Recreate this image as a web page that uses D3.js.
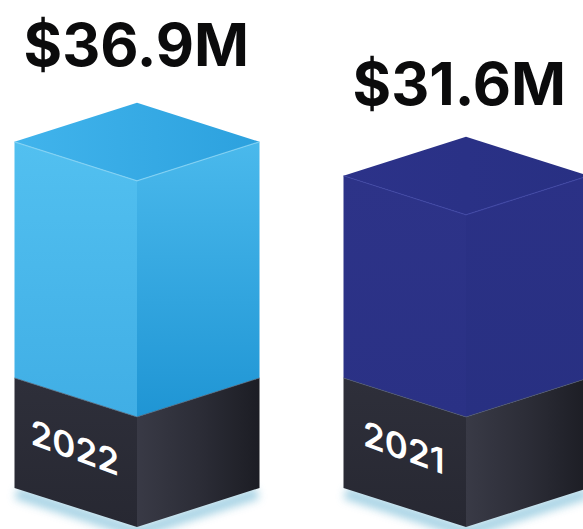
<!DOCTYPE html>
<html>
<head>
<meta charset="utf-8">
<script src="https://cdn.jsdelivr.net/npm/d3@7"></script>
<style>
  html, body { margin: 0; padding: 0; background: #ffffff; }
  svg { display: block; }
</style>
</head>
<body>
<svg id="chart" width="583" height="529"></svg>
<script>
// Annual revenue, in millions of dollars
const years = ["2022", "2021"];
const revenue = [36.9, 31.6];
const valueLabels = ["$36.9M", "$31.6M"];

// Face colours for each column (top, left side, right side)
const themes = [
  { top: ["#41b4ec", "#2ca1de"], left: ["#52c0f0", "#40aee5"], right: ["#4ab9ec", "#1f95d4"], edge: "#86d3f4" },
  { top: ["#2c3289", "#283083"], left: ["#2d3388", "#2a3185"], right: ["#2b3186", "#283082"], edge: "#3c43a2" }
];

const W = 583, H = 529;
const halfW = 122.5;   // half width of a column in the iso view
const drop = 39;       // vertical rise from front edge to side corners
const baseTop = 417;   // front edge where the dark plinth starts
const baseH = 110;     // plinth height

const svg = d3.select("#chart");
const defs = svg.append("defs");

const x = d3.scalePoint().domain(years).range([137, 466]);
const y = d3.scaleLinear().domain([0, 40]).range([baseTop, baseTop - 256]);
// gap between a column's top and its value label
const labelGap = d3.scaleLinear().domain([0, 36.9]).range([0, 37]);

function grad(id, stops, x2, y2) {
  const g = defs.append("linearGradient").attr("id", id)
    .attr("x1", 0).attr("y1", 0).attr("x2", x2).attr("y2", y2);
  stops.forEach((c, i) => g.append("stop")
    .attr("offset", i / (stops.length - 1)).attr("stop-color", c));
  return `url(#${id})`;
}

const blur = defs.append("filter").attr("id", "glow")
  .attr("x", "-20%").attr("y", "-100%").attr("width", "140%").attr("height", "300%");
blur.append("feGaussianBlur").attr("stdDeviation", 4);

const baseLeft = grad("base-left", ["#2e2f3a", "#272832"], 0, 1);
const baseRight = grad("base-right", ["#393a46", "#2c2d37", "#1c1d24"], 1, 0);

const line = d3.line();

// prism faces between front-edge heights yt (top) and yb (bottom)
function faces(cx, yt, yb) {
  return {
    left: [[cx - halfW, yt - drop], [cx, yt], [cx, yb], [cx - halfW, yb - drop]],
    right: [[cx, yt], [cx + halfW, yt - drop], [cx + halfW, yb - drop], [cx, yb]],
    top: [[cx, yt - 2 * drop], [cx - halfW, yt - drop], [cx, yt], [cx + halfW, yt - drop]]
  };
}

const data = years.map((yr, i) => ({ year: yr, value: revenue[i], label: valueLabels[i], theme: themes[i], i }));

const bars = svg.selectAll("g.bar").data(data).join("g").attr("class", "bar");

bars.each(function (d) {
  const g = d3.select(this);
  const cx = x(d.year);
  const yt = y(d.value);
  const yb = y(0);
  const bottom = yb + baseH;

  // soft glow beneath the plinth
  g.append("path")
    .attr("d", line([[cx - halfW + 2, bottom - drop + 5], [cx, bottom + 5], [cx + halfW - 2, bottom - drop + 5]]))
    .attr("fill", "none").attr("stroke", "#9fcfe2").attr("stroke-width", 12)
    .attr("opacity", 0.9).attr("filter", "url(#glow)");

  // dark plinth
  const p = faces(cx, yb, bottom);
  g.append("path").attr("d", line(p.left) + "Z").attr("fill", baseLeft);
  g.append("path").attr("d", line(p.right) + "Z").attr("fill", baseRight);

  // value column
  const f = faces(cx, yt, yb);
  const t = d.theme;
  g.append("path").attr("d", line(f.left) + "Z").attr("fill", grad(`l${d.i}`, t.left, 0, 1));
  g.append("path").attr("d", line(f.right) + "Z").attr("fill", grad(`r${d.i}`, t.right, 0, 1));
  g.append("path").attr("d", line(f.top) + "Z").attr("fill", grad(`t${d.i}`, t.top, 1, 0));
  g.append("path")
    .attr("d", line([f.top[1], f.top[2], f.top[3]]))
    .attr("fill", "none").attr("stroke", t.edge).attr("stroke-width", 1.2).attr("opacity", 0.8);
  g.append("path")
    .attr("d", line([[cx - halfW, yb - drop], [cx, yb], [cx + halfW, yb - drop]]))
    .attr("fill", "none").attr("stroke", "#4b5666").attr("stroke-width", 1).attr("opacity", 0.7);

  // value label above the column
  g.append("text")
    .attr("x", cx - halfW + 9)
    .attr("y", yt - 2 * drop - labelGap(d.value))
    .attr("font-family", "Inter, 'Open Sans', sans-serif")
    .attr("font-weight", 700)
    .attr("font-size", 59)
    .attr("fill", "#0b0b0c")
    .text(d.label);

  // year printed on the plinth's left face
  const fx = cx - halfW / 2 - 1;
  const fy = yb - drop / 2 + baseH / 2;
  const skew = 20;
  g.append("g")
    .attr("transform", `translate(${fx},${fy}) skewY(${skew})`)
    .append("text")
    .attr("x", 0).attr("y", -5)
    .attr("text-anchor", "middle")
    .attr("dominant-baseline", "central")
    .attr("font-family", "Inter, 'Open Sans', sans-serif")
    .attr("font-weight", 600)
    .attr("font-size", 35)
    .attr("fill", "#ffffff")
    .text(d.year);
});
</script>
</body>
</html>
